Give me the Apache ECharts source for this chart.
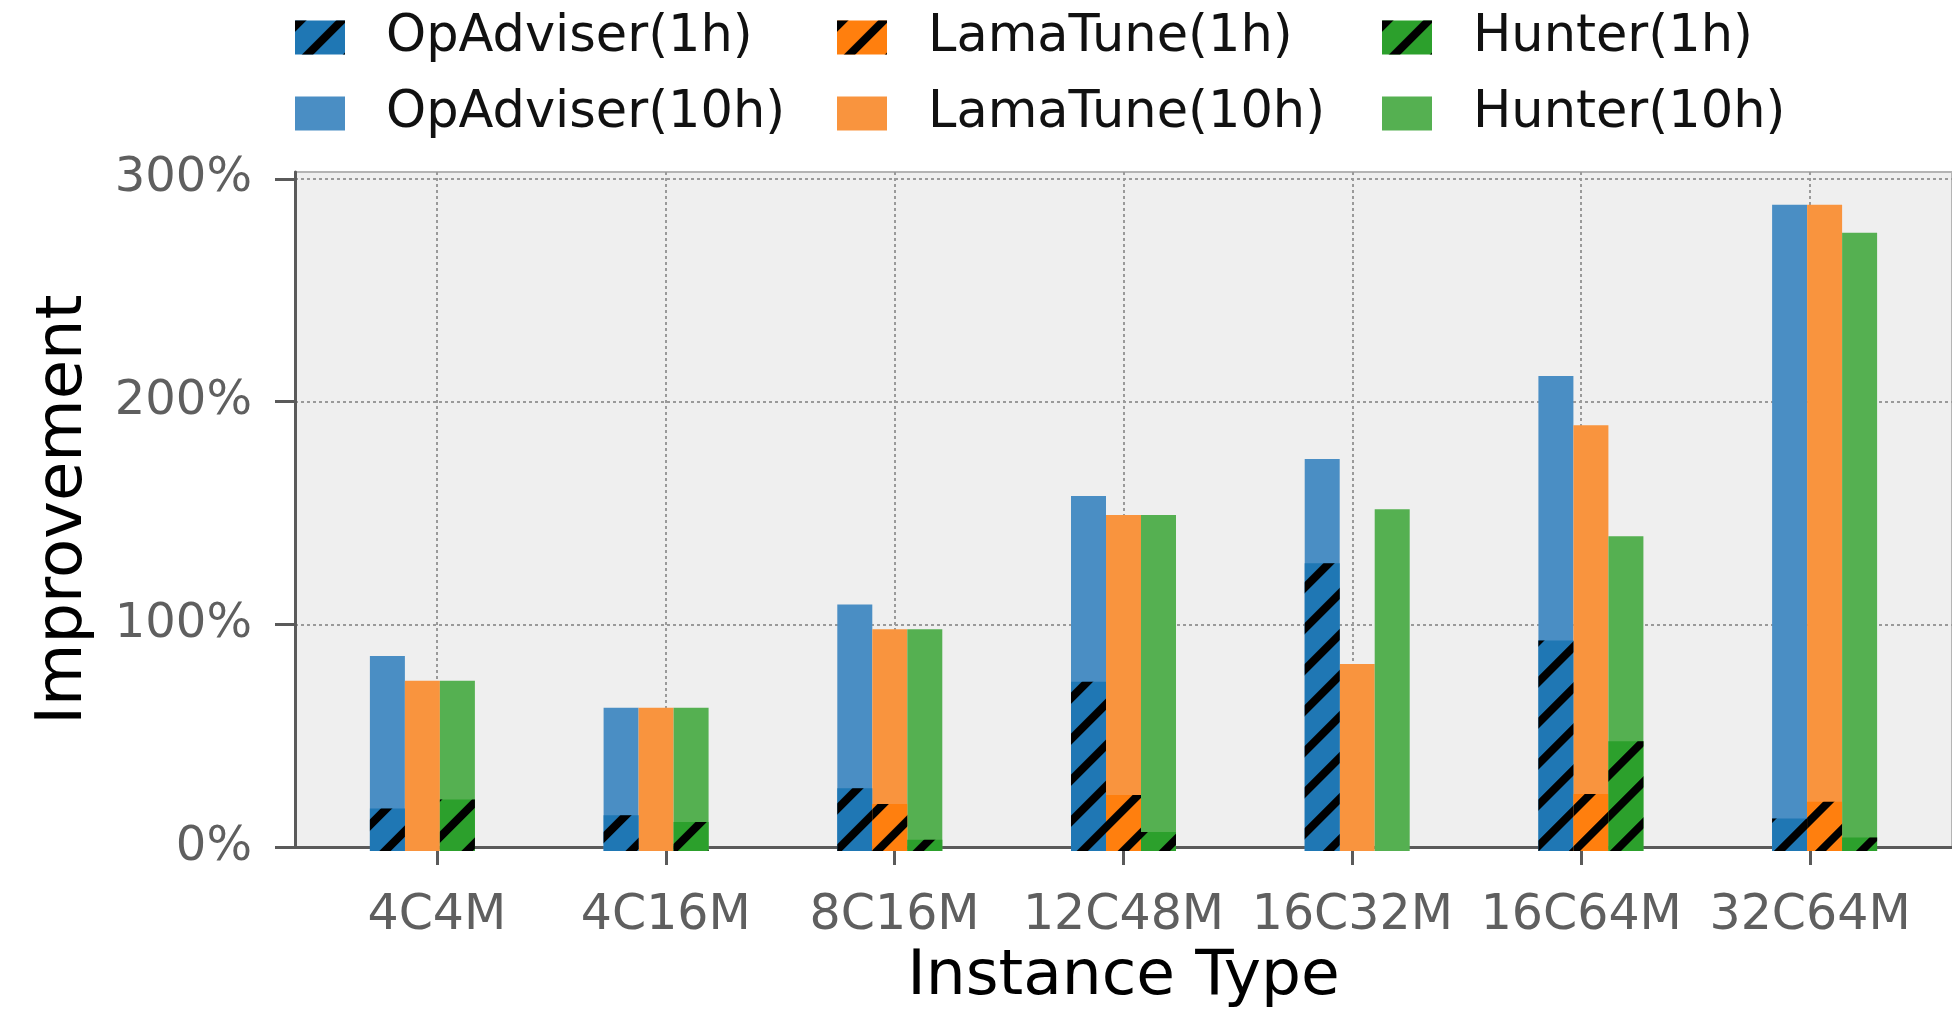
<!DOCTYPE html>
<html>
<head>
<meta charset="utf-8">
<script src="https://cdn.jsdelivr.net/npm/echarts@6/dist/echarts.min.js"></script>
<style>
  html, body { margin: 0; padding: 0; background: #ffffff; }
  #chart { width: 1952px; height: 1014px; }
</style>
</head>
<body>
<div id="chart"></div>
<script>
// Instance types on the x axis
const categories = ['4C4M', '4C16M', '8C16M', '12C48M', '16C32M', '16C64M', '32C64M'];

// Improvement (%) after 10 hours of tuning
const opAdviser10h = [87, 64, 110, 158.5, 175, 212, 288.5];
const lamaTune10h  = [76, 64, 99, 150, 83.5, 190, 288.5];
const hunter10h    = [76, 64, 99, 150, 152.5, 140.5, 276];

// Improvement (%) after 1 hour of tuning
const opAdviser1h = [19, 16, 28, 75.5, 128.5, 94, 14.5];
const lamaTune1h  = [0, 0, 21, 25, 0, 25.5, 22];
const hunter1h    = [23, 13, 5, 8.5, 0, 49, 6];

// Axis ticks
const yTicks = [0, 100, 200, 300];
const xTicks = [0, 1, 2, 3, 4, 5, 6];

const FONT = 'DejaVu Sans';

// Plot frame (pixels) and data range
const PLOT_LEFT = 295, PLOT_TOP = 172, PLOT_W = 1692, PLOT_H = 679;
const X_MIN = -0.62, X_MAX = 6.62, Y_MAX = 303.1;
const BAND = PLOT_W / (X_MAX - X_MIN);
const BAR_W = 35;

const axisColor = '#5a5a5a';
const gridLine = { show: true, lineStyle: { type: [3, 3], color: '#9a9a9a', width: 2 } };

// black "//" hatch for the 1-hour bars
const hatch = {
  symbol: 'rect',
  symbolSize: 1,
  color: '#000000',
  dashArrayX: [1, 0],
  dashArrayY: [8, 21],
  rotation: -Math.PI / 4
};

const palette = {
  op10: '#4a8ec4', lama10: '#f9943e', hunter10: '#55b051',
  op1: '#1f77b4', lama1: '#ff7f0e', hunter1: '#2ca02c'
};

const names1h  = ['OpAdviser(1h)', 'LamaTune(1h)', 'Hunter(1h)'];
const names10h = ['OpAdviser(10h)', 'LamaTune(10h)', 'Hunter(10h)'];
const legendLefts = [295, 837, 1382];

function bar10(name, data, color) {
  return {
    type: 'bar', name, data, xAxisIndex: 1, yAxisIndex: 1,
    barWidth: BAR_W, barGap: '0%',
    itemStyle: { color }
  };
}
function bar1(name, data, color) {
  return {
    type: 'bar', name, data, xAxisIndex: 2, yAxisIndex: 1,
    barWidth: BAR_W, barGap: '0%',
    itemStyle: { color, decal: hatch }
  };
}

const chart = echarts.init(document.getElementById('chart'), null, { renderer: 'canvas' });

chart.setOption({
  animation: false,
  backgroundColor: '#ffffff',
  textStyle: { fontFamily: FONT },
  aria: { enabled: false },
  legend: [0, 1, 2].map(i => ({
    orient: 'vertical',
    left: legendLefts[i],
    top: 12,
    padding: 0,
    itemWidth: 50,
    itemHeight: 34,
    itemGap: 25,
    icon: 'rect',
    selectedMode: false,
    data: [names1h[i], names10h[i]],
    textStyle: { fontSize: 51, color: '#111111', fontFamily: FONT, padding: [0, 0, 0, 36] }
  })),
  grid: [
    {
      left: PLOT_LEFT, top: PLOT_TOP, width: PLOT_W, height: PLOT_H,
      show: true, backgroundColor: '#efefef', borderColor: '#b4b4b4', borderWidth: 2
    },
    {
      // categories centred on the integer ticks, each group sits half a bar to the left
      left: PLOT_LEFT + (-X_MIN - 0.5) * BAND - BAR_W / 2,
      top: PLOT_TOP, width: 7 * BAND, height: PLOT_H
    }
  ],
  xAxis: [
    {
      gridIndex: 0, type: 'value', min: X_MIN, max: X_MAX, minInterval: 1, maxInterval: 1,
      axisLine: { show: true, onZero: false, lineStyle: { color: axisColor, width: 3 } },
      axisTick: { show: true, length: 18, customValues: xTicks, lineStyle: { color: axisColor, width: 3 } },
      axisLabel: {
        customValues: xTicks,
        formatter: v => (Math.abs(v - Math.round(v)) < 1e-6 ? (categories[Math.round(v)] || '') : ''),
        fontSize: 49, color: '#5f5f5f', margin: 45, fontFamily: FONT
      },
      splitLine: gridLine,
      name: 'Instance Type', nameLocation: 'middle', nameGap: 97,
      nameTextStyle: { fontSize: 63, color: '#000000', fontFamily: FONT }
    },
    { gridIndex: 1, type: 'category', data: categories, show: false },
    { gridIndex: 1, type: 'category', data: categories, show: false }
  ],
  yAxis: [
    {
      gridIndex: 0, type: 'value', min: 0, max: Y_MAX, interval: 100,
      axisLine: { show: true, onZero: false, lineStyle: { color: axisColor, width: 3 } },
      axisTick: { show: true, length: 20, customValues: yTicks, lineStyle: { color: axisColor, width: 3 } },
      axisLabel: {
        customValues: yTicks,
        formatter: v => (v % 100 === 0 ? v + '%' : ''),
        fontSize: 48, color: '#5f5f5f', margin: 43, fontFamily: FONT
      },
      splitLine: gridLine,
      name: 'Improvement', nameLocation: 'middle', nameGap: 199,
      nameTextStyle: { fontSize: 64, color: '#000000', fontFamily: FONT }
    },
    { gridIndex: 1, type: 'value', min: 0, max: Y_MAX, show: false }
  ],
  series: [
    bar10('OpAdviser(10h)', opAdviser10h, palette.op10),
    bar10('LamaTune(10h)', lamaTune10h, palette.lama10),
    bar10('Hunter(10h)', hunter10h, palette.hunter10),
    bar1('OpAdviser(1h)', opAdviser1h, palette.op1),
    bar1('LamaTune(1h)', lamaTune1h, palette.lama1),
    bar1('Hunter(1h)', hunter1h, palette.hunter1)
  ]
});
</script>
</body>
</html>
